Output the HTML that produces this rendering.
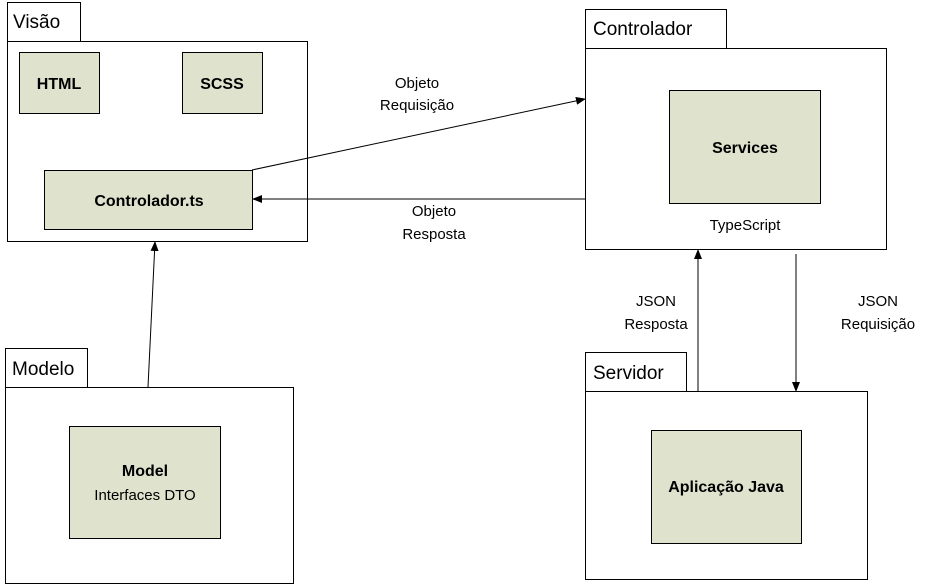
<!DOCTYPE html>
<html><head><meta charset="utf-8"><style>
html,body{margin:0;padding:0;background:#fff;}
svg{display:block;font-family:"Liberation Sans",sans-serif;}
</style></head><body>
<svg width="929" height="585" viewBox="0 0 929 585" xmlns="http://www.w3.org/2000/svg">
<defs><marker id="a" markerWidth="10" markerHeight="8" refX="9" refY="4" orient="auto" markerUnits="userSpaceOnUse"><path d="M0,0 L10,4 L0,8 z" fill="#000"/></marker></defs>
<g fill="#fff" stroke="#000" stroke-width="1">
<rect x="7.5" y="2.5" width="73" height="39"/><rect x="7.5" y="41.5" width="300" height="200"/>
<rect x="585.5" y="9.5" width="141" height="39"/><rect x="585.5" y="48.5" width="301" height="201"/>
<rect x="5.5" y="348.5" width="82" height="39"/><rect x="5.5" y="387.5" width="288" height="196"/>
<rect x="585.5" y="352.5" width="101" height="39"/><rect x="585.5" y="391.5" width="282" height="188"/>
</g>
<g fill="#dfe3ce" stroke="#000">
<rect x="19.5" y="52.5" width="80" height="61"/><rect x="182.5" y="52.5" width="80" height="61"/>
<rect x="44.5" y="170.5" width="208" height="59"/>
<rect x="669.5" y="90.5" width="151" height="113"/>
<rect x="69.5" y="426.5" width="151" height="112"/>
<rect x="651.5" y="430.5" width="150" height="113"/>
</g>
<g font-size="19" fill="#000">
<text x="13" y="28">Visão</text><text x="593" y="35">Controlador</text>
<text x="12" y="375">Modelo</text><text x="593" y="379">Servidor</text>
</g>
<g font-size="16" font-weight="bold" text-anchor="middle">
<text x="59" y="89">HTML</text><text x="222" y="89">SCSS</text>
<text x="149" y="206">Controlador.ts</text><text x="745" y="153">Services</text>
<text x="145" y="476">Model</text><text x="726" y="492">Aplicação Java</text>
</g>
<g font-size="15" text-anchor="middle">
<text x="145" y="500">Interfaces DTO</text><text x="745" y="230">TypeScript</text>
<text x="417" y="88">Objeto</text><text x="417" y="110">Requisição</text>
<text x="434" y="216">Objeto</text><text x="434" y="239">Resposta</text>
<text x="656" y="306">JSON</text><text x="656" y="329">Resposta</text>
<text x="878" y="306">JSON</text><text x="878" y="329">Requisição</text>
</g>
<g stroke="#000" stroke-width="1" fill="none">
<line x1="252" y1="170" x2="585" y2="99" marker-end="url(#a)"/>
<line x1="585" y1="199" x2="253" y2="199" marker-end="url(#a)"/>
<line x1="148" y1="387" x2="155" y2="242" marker-end="url(#a)"/>
<line x1="698" y1="391" x2="698" y2="250" marker-end="url(#a)"/>
<line x1="796" y1="254" x2="796" y2="391" marker-end="url(#a)"/>
</g>
</svg>
</body></html>
